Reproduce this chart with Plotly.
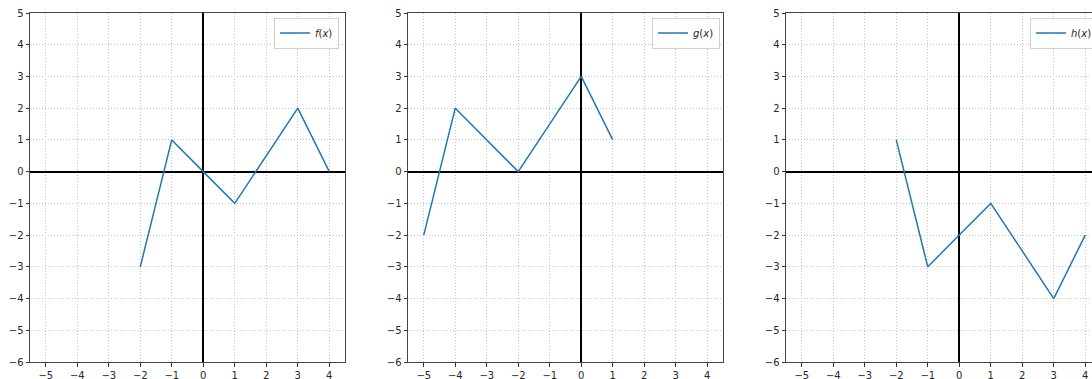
import plotly.graph_objects as go

f_x = [-2, -1, 0, 1, 3, 4]
f_y = [-3, 1, 0, -1, 2, 0]
g_x = [-5, -4, -2, 0, 1]
g_y = [-2, 2, 0, 3, 1]
h_x = [-2, -1, 0, 1, 3, 4]
h_y = [1, -3, -2, -1, -4, -2]
names = ["<i>f</i>(<i>x</i>)", "<i>g</i>(<i>x</i>)", "<i>h</i>(<i>x</i>)"]
x_ticks = [-5, -4, -3, -2, -1, 0, 1, 2, 3, 4]
y_ticks = [-6, -5, -4, -3, -2, -1, 0, 1, 2, 3, 4, 5]

W, H = 1092, 379
ml, mr, mt, mb = 30, 0, 13, 17
pw = W - ml - mr
panel_px = 315
gap_px = 378

fig = go.Figure()
series = [(f_x, f_y), (g_x, g_y), (h_x, h_y)]
legend_keys = ["legend", "legend2", "legend3"]
for i, (xs, ys) in enumerate(series):
    fig.add_trace(go.Scatter(
        x=xs, y=ys, mode="lines", name=names[i],
        line=dict(color="#1f77b4", width=1.5),
        xaxis="x" if i == 0 else f"x{i+1}",
        yaxis="y" if i == 0 else f"y{i+1}",
        legend=legend_keys[i], showlegend=True,
    ))

font = dict(family="DejaVu Sans", size=10, color="#262626")
layout = dict(width=W, height=H,
              margin=dict(l=ml, r=mr, t=mt, b=mb, autoexpand=False),
              paper_bgcolor="white", plot_bgcolor="white", font=font)

for i in range(3):
    x0 = i * gap_px / pw
    x1 = min(1.0, (i * gap_px + panel_px) / pw)
    right_val = -5.5 + (x1 * pw - i * gap_px) / 31.5
    xs = "xaxis" if i == 0 else f"xaxis{i+1}"
    ys = "yaxis" if i == 0 else f"yaxis{i+1}"
    yref = "y" if i == 0 else f"y{i+1}"
    xref = "x" if i == 0 else f"x{i+1}"
    layout[xs] = dict(
        domain=[x0, x1], range=[-5.5, right_val], anchor=yref,
        tickvals=x_ticks, ticks="outside", ticklen=3.5, tickwidth=0.8,
        tickcolor="#333333", showline=True, linecolor="#444444", linewidth=1,
        mirror=True, showgrid=True, gridcolor="#c4c4c4", griddash="1px,2px",
        gridwidth=0.8, zeroline=True, zerolinecolor="black", zerolinewidth=1.5,
        tickfont=font, fixedrange=True, ticklabeloverflow="allow",
        automargin=False,
    )
    layout[ys] = dict(
        domain=[0, 1], range=[-6, 5], anchor=xref,
        tickvals=y_ticks, ticks="outside", ticklen=3.5, tickwidth=0.8,
        tickcolor="#333333", showline=True, linecolor="#444444", linewidth=1,
        mirror=(i < 2), showgrid=True, gridcolor="#c4c4c4", griddash="1px,2px",
        gridwidth=0.8, zeroline=True, zerolinecolor="black", zerolinewidth=1.5,
        tickfont=font, fixedrange=True, ticklabeloverflow="allow",
        automargin=False,
    )
    lx = (i * gap_px + 244) / pw
    layout[legend_keys[i]] = dict(
        x=lx, y=0.987, xanchor="left", yanchor="top",
        bgcolor="rgba(255,255,255,0.8)", bordercolor="#d0d0d0", borderwidth=1,
        font=dict(family="DejaVu Sans", size=10, color="#262626"),
        itemwidth=30, tracegroupgap=0,
    )

fig.update_layout(**layout)
post = (
    "document.documentElement.style.overflow='hidden';"
    "document.body.style.margin='0px';"
    "document.body.style.overflow='hidden';"
)
fig.write_html("out.html", post_script=post, config={"displayModeBar": False})
